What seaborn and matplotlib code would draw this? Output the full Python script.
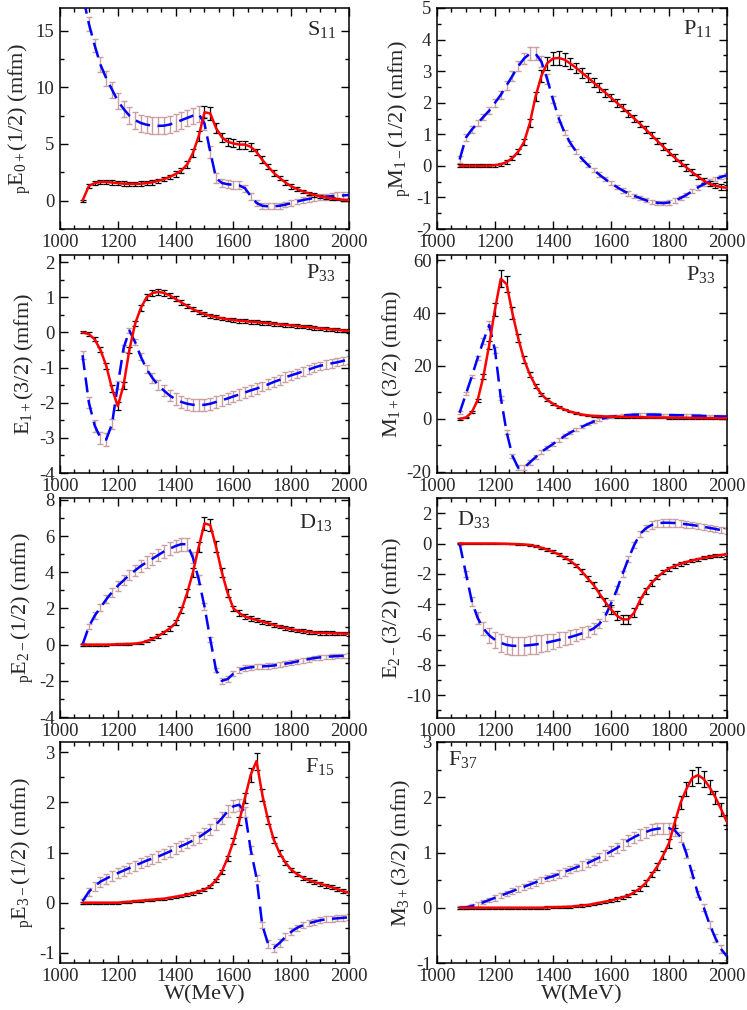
import numpy as np
import pandas as pd
import matplotlib
matplotlib.use("Agg")
import matplotlib.pyplot as plt
from matplotlib.ticker import MultipleLocator
import seaborn as sns

# ---------------- data ----------------
W = [1078] + list(range(1100, 2001, 20))

s11_re = [0.0, 1.3, 1.55, 1.65, 1.65, 1.6, 1.55, 1.5, 1.48, 1.47, 1.5, 1.55, 1.62, 1.75, 1.9, 2.1, 2.35, 2.65, 3.2, 4.2,
          5.7, 7.8, 7.7, 6.4, 5.6, 5.2, 5.05, 4.95, 4.95, 4.75, 4.3, 3.6, 3.0, 2.45, 2.0, 1.6, 1.27, 1.02, 0.82, 0.65,
          0.5, 0.38, 0.28, 0.2, 0.13, 0.07, 0.03]
s11_im = [18.2, 15.6, 13.7, 12.0, 10.8, 9.8, 8.8, 8.1, 7.5, 7.1, 6.85, 6.7, 6.62, 6.6, 6.62, 6.72, 6.9, 7.1, 7.3, 7.5,
          7.65, 6.8, 4.3, 2.0, 1.56, 1.45, 1.4, 1.35, 1.1, 0.4, -0.2, -0.45, -0.5, -0.5, -0.45, -0.35, -0.22, -0.08, 0.05,
          0.15, 0.23, 0.3, 0.35, 0.4, 0.43, 0.46, 0.5]
s11_re_err = [0.1, 0.2, 0.2, 0.2, 0.2, 0.2, 0.2, 0.2, 0.2, 0.2, 0.2, 0.2, 0.2, 0.2, 0.2, 0.2, 0.25, 0.25, 0.3, 0.35,
              0.45, 0.55, 0.55, 0.45, 0.4, 0.35, 0.35, 0.35, 0.35, 0.35, 0.3, 0.3, 0.25, 0.25, 0.2, 0.2, 0.2, 0.2, 0.15,
              0.15, 0.15, 0.15, 0.15, 0.1, 0.1, 0.1, 0.1]
s11_im_err = [0.6, 0.6, 0.6, 0.65, 0.65, 0.7, 0.7, 0.7, 0.75, 0.75, 0.75, 0.75, 0.75, 0.75, 0.75, 0.75, 0.75, 0.75, 0.7,
              0.7, 0.7, 0.6, 0.5, 0.4, 0.35, 0.35, 0.35, 0.35, 0.3, 0.3, 0.3, 0.25, 0.25, 0.25, 0.25, 0.25, 0.25, 0.25,
              0.25, 0.25, 0.25, 0.25, 0.25, 0.25, 0.3, 0.3, 0.3]

p11_re = [0, 0, 0, 0, 0, 0, 0.02, 0.05, 0.12, 0.25, 0.45, 0.75, 1.35, 2.2, 2.85, 3.25, 3.4, 3.42, 3.36, 3.24, 3.1,
          2.95, 2.8, 2.64, 2.48, 2.32, 2.16, 2.0, 1.84, 1.67, 1.5, 1.33, 1.15, 0.97, 0.79, 0.61, 0.43, 0.26, 0.1, -0.05,
          -0.2, -0.34, -0.47, -0.57, -0.63, -0.67, -0.7]
p11_im = [0.2, 0.9, 1.15, 1.35, 1.55, 1.75, 2.0, 2.25, 2.55, 2.85, 3.15, 3.4, 3.55, 3.55, 3.3, 2.75, 2.1, 1.5, 1.05,
          0.72, 0.45, 0.22, 0.03, -0.13, -0.28, -0.42, -0.55, -0.67, -0.78, -0.87, -0.95, -1.02, -1.09, -1.14, -1.17,
          -1.18, -1.16, -1.1, -1.02, -0.92, -0.8, -0.68, -0.58, -0.5, -0.42, -0.35, -0.3]
p11_re_err = [0.05, 0.05, 0.05, 0.05, 0.05, 0.05, 0.05, 0.05, 0.05, 0.07, 0.08, 0.1, 0.12, 0.15, 0.18, 0.2, 0.22, 0.22,
              0.2, 0.18, 0.17, 0.16, 0.15, 0.14, 0.13, 0.13, 0.12, 0.12, 0.11, 0.11, 0.1, 0.1, 0.1, 0.1, 0.1, 0.1, 0.1,
              0.1, 0.1, 0.1, 0.1, 0.08, 0.08, 0.08, 0.08, 0.08, 0.08]
p11_im_err = [0.1, 0.1, 0.1, 0.1, 0.1, 0.1, 0.12, 0.12, 0.14, 0.15, 0.16, 0.18, 0.2, 0.2, 0.18, 0.15, 0.12, 0.1, 0.08,
              0.08, 0.07, 0.07, 0.07, 0.07, 0.07, 0.07, 0.07, 0.07, 0.07, 0.07, 0.07, 0.07, 0.07, 0.07, 0.07, 0.07,
              0.07, 0.07, 0.07, 0.07, 0.07, 0.07, 0.07, 0.07, 0.07, 0.07, 0.07]

e1p_re = [0, -0.05, -0.2, -0.5, -0.95, -1.6, -2.1, -1.5, -0.5, 0.25, 0.7, 1.0, 1.12, 1.15, 1.12, 1.05, 0.95, 0.85, 0.75,
          0.66, 0.58, 0.52, 0.47, 0.43, 0.4, 0.37, 0.35, 0.33, 0.32, 0.3, 0.29, 0.27, 0.26, 0.24, 0.23, 0.21, 0.2, 0.18,
          0.16, 0.15, 0.13, 0.11, 0.1, 0.08, 0.07, 0.05, 0.04]
e1p_im = [-0.65, -2.0, -2.65, -3.0, -3.05, -2.6, -1.5, -0.45, 0.05, -0.28, -0.7, -1.05, -1.3, -1.5, -1.66, -1.8, -1.9,
          -1.98, -2.03, -2.06, -2.07, -2.06, -2.03, -1.98, -1.93, -1.88, -1.82, -1.77, -1.71, -1.65, -1.6, -1.54, -1.48,
          -1.41, -1.35, -1.28, -1.22, -1.17, -1.11, -1.06, -1.0, -0.95, -0.92, -0.88, -0.85, -0.81, -0.78]
e1p_re_err = [0.03, 0.05, 0.06, 0.07, 0.08, 0.1, 0.12, 0.1, 0.08, 0.08, 0.08, 0.08, 0.09, 0.09, 0.09, 0.08, 0.07, 0.06,
              0.06, 0.05, 0.05, 0.05, 0.05, 0.05, 0.05, 0.05, 0.05, 0.05, 0.05, 0.05, 0.05, 0.05, 0.05, 0.05, 0.05,
              0.05, 0.05, 0.05, 0.05, 0.05, 0.05, 0.05, 0.05, 0.05, 0.05, 0.05, 0.05]
e1p_im_err = [0.12, 0.15, 0.17, 0.18, 0.18, 0.15, 0.12, 0.1, 0.08, 0.08, 0.1, 0.12, 0.13, 0.14, 0.15, 0.16, 0.17, 0.17,
              0.17, 0.17, 0.17, 0.17, 0.17, 0.17, 0.16, 0.16, 0.16, 0.15, 0.15, 0.15, 0.15, 0.14, 0.14, 0.14, 0.14,
              0.14, 0.13, 0.13, 0.13, 0.13, 0.13, 0.12, 0.12, 0.12, 0.12, 0.12, 0.12]

m1p_re = [0, 0.5, 2.5, 7, 16, 28, 41.5, 53, 51, 40, 30.5, 22.5, 16.8, 12.5, 9.3, 7.2, 5.7, 4.5, 3.5, 2.7, 2.1, 1.6, 1.3,
          1.1, 1.0, 0.9, 0.85, 0.8, 0.75, 0.7, 0.65, 0.6, 0.55, 0.5, 0.48, 0.45, 0.42, 0.4, 0.38, 0.35, 0.33, 0.3,
          0.28, 0.25, 0.23, 0.2, 0.2]
m1p_im = [2.3, 9.5, 16, 23, 29.5, 35.5, 26, 8, -5, -14, -18.5, -18.5, -16.5, -14.5, -12.5, -11, -9.5, -8, -6.5, -5.2,
          -4, -3, -2, -1, -0.2, 0.4, 0.8, 1.1, 1.3, 1.45, 1.55, 1.6, 1.6, 1.6, 1.55, 1.5, 1.45, 1.4, 1.35, 1.3, 1.2,
          1.15, 1.1, 1.0, 0.95, 0.9, 0.85]
m1p_re_err = [0.3, 0.3, 0.4, 0.6, 0.9, 1.5, 2.5, 3.2, 3.0, 2.2, 1.6, 1.2, 1.0, 0.8, 0.6, 0.5, 0.4, 0.35, 0.3, 0.3, 0.3,
              0.3, 0.3, 0.3, 0.3, 0.3, 0.3, 0.3, 0.3, 0.3, 0.3, 0.3, 0.3, 0.3, 0.3, 0.3, 0.3, 0.3, 0.3, 0.3, 0.3, 0.3,
              0.3, 0.3, 0.3, 0.3, 0.3]
m1p_im_err = [0.5, 0.6, 0.7, 0.9, 1.1, 1.5, 1.2, 0.8, 0.7, 0.8, 1.0, 1.0, 0.9, 0.8, 0.8, 0.7, 0.7, 0.6, 0.6, 0.5, 0.5,
              0.5, 0.5, 0.5, 0.5, 0.5, 0.5, 0.5, 0.5, 0.5, 0.5, 0.5, 0.5, 0.5, 0.5, 0.5, 0.5, 0.5, 0.5, 0.5, 0.5, 0.5,
              0.5, 0.5, 0.5, 0.5, 0.5]

d13_re = [0, 0, 0, 0, 0, 0.01, 0.02, 0.03, 0.04, 0.06, 0.1, 0.2, 0.32, 0.48, 0.68, 0.9, 1.2, 1.9, 2.85, 4.0, 5.4, 6.7,
          6.6, 5.4, 4.0, 2.85, 2.0, 1.75, 1.55, 1.45, 1.36, 1.27, 1.18, 1.09, 1.0, 0.92, 0.85, 0.79, 0.74, 0.7, 0.67,
          0.65, 0.64, 0.63, 0.62, 0.61, 0.6]
d13_im = [0, 1.0, 1.6, 2.05, 2.5, 2.9, 3.25, 3.55, 3.85, 4.1, 4.35, 4.55, 4.75, 4.95, 5.15, 5.3, 5.45, 5.55, 5.55, 4.8,
          3.6, 2.1, 0.3, -1.4, -2.0, -1.9, -1.6, -1.4, -1.3, -1.25, -1.22, -1.2, -1.18, -1.15, -1.1, -1.05, -1.0,
          -0.93, -0.86, -0.8, -0.74, -0.7, -0.67, -0.65, -0.63, -0.62, -0.6]
d13_re_err = [0.05, 0.05, 0.05, 0.05, 0.05, 0.05, 0.05, 0.05, 0.05, 0.05, 0.06, 0.07, 0.08, 0.1, 0.1, 0.12, 0.14, 0.16,
              0.2, 0.24, 0.28, 0.35, 0.35, 0.3, 0.25, 0.2, 0.16, 0.14, 0.13, 0.12, 0.12, 0.11, 0.11, 0.1, 0.1, 0.1,
              0.1, 0.1, 0.1, 0.1, 0.1, 0.1, 0.1, 0.1, 0.1, 0.1, 0.1]
d13_im_err = [0.1, 0.15, 0.18, 0.2, 0.22, 0.24, 0.26, 0.28, 0.3, 0.3, 0.32, 0.32, 0.33, 0.34, 0.35, 0.35, 0.35, 0.35,
              0.35, 0.3, 0.25, 0.2, 0.15, 0.12, 0.15, 0.15, 0.15, 0.15, 0.15, 0.15, 0.15, 0.15, 0.15, 0.15, 0.14,
              0.14, 0.14, 0.13, 0.13, 0.13, 0.13, 0.12, 0.12, 0.12, 0.12, 0.12, 0.12]

d33_re = [0, 0, 0, 0, 0, 0, 0, -0.01, -0.02, -0.03, -0.04, -0.06, -0.1, -0.18, -0.28, -0.4, -0.55, -0.72, -0.92, -1.15,
          -1.45, -1.86, -2.3, -2.73, -3.3, -3.85, -4.35, -4.75, -5.0, -5.0, -4.55, -3.75, -3.1, -2.6, -2.2, -1.9,
          -1.65, -1.48, -1.34, -1.22, -1.12, -1.03, -0.95, -0.88, -0.82, -0.76, -0.7]
d33_im = [0, -2.0, -3.8, -4.9, -5.6, -6.05, -6.35, -6.55, -6.68, -6.74, -6.75, -6.73, -6.7, -6.65, -6.6, -6.52, -6.44,
          -6.35, -6.26, -6.16, -6.05, -5.92, -5.78, -5.6, -5.3, -4.8, -3.95, -3.05, -2.0, -1.0, -0.1, 0.62, 1.0, 1.22,
          1.33, 1.37, 1.37, 1.35, 1.31, 1.27, 1.22, 1.16, 1.1, 1.03, 0.96, 0.88, 0.8]
d33_re_err = [0.03, 0.03, 0.03, 0.03, 0.03, 0.03, 0.03, 0.03, 0.03, 0.03, 0.04, 0.04, 0.05, 0.06, 0.07, 0.08, 0.09, 0.1,
              0.11, 0.12, 0.13, 0.15, 0.17, 0.19, 0.22, 0.25, 0.28, 0.3, 0.3, 0.3, 0.28, 0.25, 0.2, 0.17, 0.15, 0.14,
              0.13, 0.12, 0.11, 0.1, 0.1, 0.1, 0.1, 0.1, 0.1, 0.1, 0.1]
d33_im_err = [0.1, 0.2, 0.3, 0.4, 0.45, 0.5, 0.55, 0.6, 0.6, 0.6, 0.6, 0.6, 0.6, 0.6, 0.55, 0.55, 0.5, 0.5, 0.45, 0.45,
              0.4, 0.4, 0.35, 0.35, 0.3, 0.3, 0.25, 0.25, 0.2, 0.2, 0.2, 0.2, 0.2, 0.25, 0.25, 0.25, 0.25, 0.25, 0.25,
              0.22, 0.22, 0.2, 0.2, 0.2, 0.2, 0.2, 0.2]

f15_re = [0, 0, 0, 0, 0, 0, 0, 0.01, 0.02, 0.03, 0.04, 0.05, 0.06, 0.07, 0.08, 0.1, 0.12, 0.14, 0.16, 0.19, 0.22, 0.26,
          0.33, 0.45, 0.62, 0.89, 1.22, 1.62, 2.09, 2.55, 2.82, 2.15, 1.65, 1.25, 0.99, 0.8, 0.66, 0.57, 0.5, 0.45,
          0.41, 0.38, 0.34, 0.31, 0.27, 0.23, 0.2]
f15_im = [0.03, 0.22, 0.33, 0.42, 0.48, 0.54, 0.59, 0.64, 0.69, 0.74, 0.79, 0.84, 0.88, 0.92, 0.97, 1.02, 1.08, 1.13,
          1.18, 1.24, 1.3, 1.38, 1.46, 1.56, 1.68, 1.82, 1.92, 1.95, 1.8, 1.05, 0.5, -0.45, -0.82, -0.9, -0.8, -0.68,
          -0.58, -0.5, -0.45, -0.41, -0.38, -0.35, -0.33, -0.32, -0.31, -0.3, -0.29]
f15_re_err = [0.02, 0.02, 0.02, 0.02, 0.02, 0.02, 0.02, 0.02, 0.02, 0.02, 0.02, 0.02, 0.02, 0.02, 0.02, 0.02, 0.02,
              0.02, 0.03, 0.03, 0.03, 0.03, 0.03, 0.03, 0.04, 0.05, 0.06, 0.08, 0.1, 0.14, 0.17, 0.12, 0.08, 0.06,
              0.05, 0.04, 0.04, 0.04, 0.04, 0.04, 0.04, 0.04, 0.04, 0.04, 0.04, 0.04, 0.04]
f15_im_err = [0.05, 0.08, 0.09, 0.1, 0.1, 0.1, 0.1, 0.1, 0.1, 0.1, 0.1, 0.1, 0.1, 0.1, 0.1, 0.1, 0.1, 0.1, 0.1, 0.1,
              0.11, 0.11, 0.11, 0.12, 0.12, 0.12, 0.12, 0.12, 0.1, 0.08, 0.06, 0.06, 0.08, 0.08, 0.08, 0.07, 0.07,
              0.06, 0.06, 0.06, 0.06, 0.06, 0.06, 0.06, 0.06, 0.06, 0.06]

f37_re = [0, 0, 0, 0, 0, 0, 0, 0, 0, 0, 0, 0, 0, 0, 0, 0.005, 0.01, 0.012, 0.015, 0.02, 0.03, 0.04, 0.05, 0.07, 0.09,
          0.11, 0.13, 0.16, 0.19, 0.22, 0.28, 0.35, 0.45, 0.6, 0.75, 0.95, 1.17, 1.55, 1.9, 2.15, 2.35, 2.4, 2.33,
          2.18, 2.0, 1.78, 1.55]
f37_im = [0, 0.01, 0.03, 0.06, 0.1, 0.14, 0.18, 0.22, 0.26, 0.3, 0.34, 0.38, 0.42, 0.46, 0.5, 0.54, 0.57, 0.61, 0.65,
          0.69, 0.73, 0.77, 0.81, 0.86, 0.91, 0.96, 1.02, 1.08, 1.15, 1.22, 1.28, 1.33, 1.37, 1.41, 1.43, 1.44, 1.44,
          1.4, 1.28, 0.98, 0.62, 0.25, 0.0, -0.3, -0.55, -0.75, -0.88]
f37_re_err = [0.02, 0.02, 0.02, 0.02, 0.02, 0.02, 0.02, 0.02, 0.02, 0.02, 0.02, 0.02, 0.02, 0.02, 0.02, 0.02, 0.02,
              0.02, 0.02, 0.02, 0.02, 0.02, 0.02, 0.02, 0.02, 0.02, 0.03, 0.03, 0.03, 0.03, 0.04, 0.04, 0.05, 0.05,
              0.06, 0.07, 0.08, 0.1, 0.12, 0.13, 0.15, 0.15, 0.14, 0.13, 0.12, 0.12, 0.12]
f37_im_err = [0.03, 0.03, 0.03, 0.04, 0.04, 0.04, 0.05, 0.05, 0.05, 0.05, 0.05, 0.05, 0.06, 0.06, 0.06, 0.06, 0.06,
              0.07, 0.07, 0.07, 0.07, 0.08, 0.08, 0.08, 0.08, 0.09, 0.09, 0.09, 0.1, 0.1, 0.1, 0.1, 0.1, 0.1, 0.1,
              0.1, 0.1, 0.1, 0.09, 0.08, 0.07, 0.06, 0.06, 0.06, 0.07, 0.07, 0.07]

ylabels = [r"$_{\rm p}$E$_{0+}$(1/2) (mfm)", r"$_{\rm p}$M$_{1-}$(1/2) (mfm)",
           r"E$_{1+}$(3/2) (mfm)", r"M$_{1+}$(3/2) (mfm)",
           r"$_{\rm p}$E$_{2-}$(1/2) (mfm)", r"E$_{2-}$(3/2) (mfm)",
           r"$_{\rm p}$E$_{3-}$(1/2) (mfm)", r"M$_{3+}$(3/2) (mfm)"]
wave_labels = [r"S$_{11}$", r"P$_{11}$", r"P$_{33}$", r"P$_{33}$", r"D$_{13}$", r"D$_{33}$", r"F$_{15}$", r"F$_{37}$"]

# ---------------- style ----------------
sns.set_style("ticks")
plt.rcParams['font.family'] = ['Liberation Serif', 'DejaVu Serif']
plt.rcParams['mathtext.fontset'] = 'custom'
plt.rcParams['mathtext.rm'] = 'Liberation Serif'
plt.rcParams['mathtext.it'] = 'Liberation Serif:italic'
plt.rcParams['mathtext.default'] = 'regular'
plt.rcParams['axes.unicode_minus'] = False

fig = plt.figure(figsize=(7.47, 10.10), dpi=100)

H = 1010.0
Wd = 747.0
cols = [(60, 289), (437, 290)]
rows = [(8, 229), (255, 473), (498, 718), (742, 963)]

panels = [
    (s11_re, s11_im, s11_re_err, s11_im_err, (-2.5, 17), 5, 2.5, (0.855, 0.878)),
    (p11_re, p11_im, p11_re_err, p11_im_err, (-2, 5), 1, 0.5, (0.848, 0.881)),
    (e1p_re, e1p_im, e1p_re_err, e1p_im_err, (-4, 2.2), 1, 0.5, (0.851, 0.894)),
    (m1p_re, m1p_im, m1p_re_err, m1p_im_err, (-20.5, 62), 20, 10, (0.859, 0.885)),
    (d13_re, d13_im, d13_re_err, d13_im_err, (-4.05, 8.1), 2, 1, (0.827, 0.864)),
    (d33_re, d33_im, d33_re_err, d33_im_err, (-11.5, 3), 2, 1, (0.069, 0.877)),
    (f15_re, f15_im, f15_re_err, f15_im_err, (-1.2, 3.2), 1, 0.5, (0.848, 0.864)),
    (f37_re, f37_im, f37_re_err, f37_im_err, (-1, 3), 1, 0.5, (0.038, 0.896)),
]

pink = '#c9a0a0'
for i, (re, im, rerr, ierr, ylim, maj, mnr, lab_pos) in enumerate(panels):
    r, c = divmod(i, 2)
    x0, w = cols[c]
    top, bot = rows[r]
    ax = fig.add_axes([x0 / Wd, 1 - bot / H, w / Wd, (bot - top) / H])
    df = pd.DataFrame({"W": W, "re": re, "im": im, "re_err": rerr, "im_err": ierr})

    ax.errorbar(df["W"], df["im"], yerr=df["im_err"], fmt='none', ecolor=pink, elinewidth=1.0,
                capsize=2.2, capthick=1.0, zorder=2)
    ax.errorbar(df["W"], df["re"], yerr=df["re_err"], fmt='none', ecolor='black', elinewidth=0.9,
                capsize=2.2, capthick=0.9, zorder=3)
    sns.lineplot(data=df, x="W", y="im", ax=ax, color='#0000ff', lw=1.8, linestyle=(0, (6, 3)),
                 estimator=None, sort=False, zorder=4)
    sns.lineplot(data=df, x="W", y="re", ax=ax, color='#ff0000', lw=1.8,
                 estimator=None, sort=False, zorder=5)

    ax.set_xlim(1000, 2000)
    ax.set_ylim(*ylim)
    ax.xaxis.set_major_locator(MultipleLocator(200))
    ax.xaxis.set_minor_locator(MultipleLocator(50))
    ax.yaxis.set_major_locator(MultipleLocator(maj))
    ax.yaxis.set_minor_locator(MultipleLocator(mnr))
    ax.tick_params(which='both', direction='in', top=True, right=True, labelsize=13.5, color='black')
    ax.tick_params(axis='x', which='both', pad=3.5)
    ax.tick_params(axis='y', which='both', pad=4)
    ax.tick_params(which='major', length=6, width=1.0)
    ax.tick_params(which='minor', length=3, width=1.0)
    for sp in ax.spines.values():
        sp.set_linewidth(1.1)
        sp.set_color('black')
    ax.set_ylabel(ylabels[i], fontsize=16, labelpad=2)
    if r == 3:
        ax.set_xlabel("W(MeV)", fontsize=16, labelpad=0)
    else:
        ax.set_xlabel("")
    ax.text(lab_pos[0], lab_pos[1], wave_labels[i], transform=ax.transAxes, fontsize=16,
            ha='left', va='baseline')

fig.savefig("out.png", dpi=100)
